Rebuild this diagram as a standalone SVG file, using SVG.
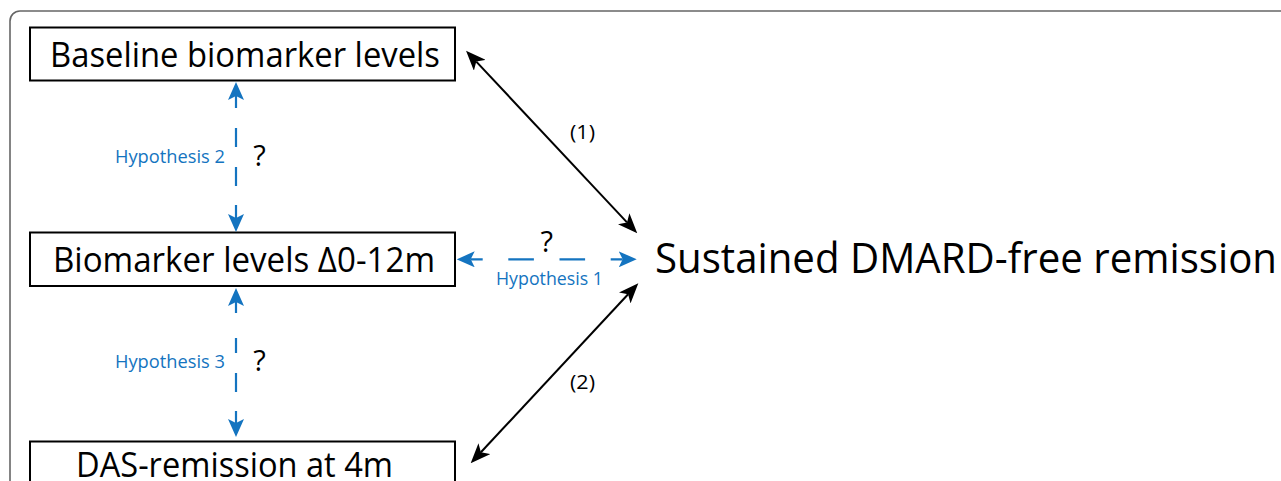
<svg xmlns="http://www.w3.org/2000/svg" width="1281" height="481" viewBox="0 0 1281 481">
  <style>
    .frame { fill: none; stroke: #666; stroke-width: 1.6; }
    .box { fill: #fff; stroke: #000; stroke-width: 2; }
    .lbl { font-family: "Open Sans", "Noto Sans", sans-serif; fill: #000; }
    .hyp { font-family: "Open Sans", "Noto Sans", sans-serif; fill: #1474c0; font-size: 18px; }
    .q { font-family: "Open Sans", "Noto Sans", sans-serif; fill: #000; font-size: 29px; text-anchor: middle; }
    .blue { fill: none; stroke: #1474c0; stroke-width: 2.2; marker-start: url(#mb); marker-end: url(#mb); }
    .black { fill: none; stroke: #000; stroke-width: 2; marker-start: url(#mk); marker-end: url(#mk); }
  </style>
  <defs>
    <marker id="mb" viewBox="0 0 18 16" refX="4" refY="8" markerWidth="18" markerHeight="16" markerUnits="userSpaceOnUse" orient="auto-start-reverse">
      <path d="M18,8 L0,0 L4,8 L0,16 Z" fill="#1474c0"/>
    </marker>
    <marker id="mk" viewBox="0 0 20 16" refX="5" refY="8" markerWidth="20" markerHeight="16" markerUnits="userSpaceOnUse" orient="auto-start-reverse">
      <path d="M20,8 L0,0 L5,8 L0,16 Z" fill="#000"/>
    </marker>
  </defs>

  <rect class="frame" x="10" y="11" width="1300" height="520" rx="10" ry="10"/>

  <g id="node-baseline">
    <rect class="box" x="30" y="27.5" width="425" height="53"/>
    <text class="lbl" x="50" y="66.5" font-size="34" textLength="390" lengthAdjust="spacingAndGlyphs">Baseline biomarker levels</text>
  </g>
  <g id="node-delta">
    <rect class="box" x="30" y="232.5" width="425" height="53.5"/>
    <text class="lbl" x="53" y="271.5" font-size="34" textLength="382" lengthAdjust="spacingAndGlyphs">Biomarker levels Δ0-12m</text>
  </g>
  <g id="node-das">
    <rect class="box" x="30" y="441.5" width="425" height="60"/>
    <text class="lbl" x="76" y="477" font-size="34" textLength="317" lengthAdjust="spacingAndGlyphs">DAS-remission at 4m</text>
  </g>
  <g id="node-sustained">
    <text class="lbl" x="655" y="272.5" font-size="42" textLength="622" lengthAdjust="spacingAndGlyphs">Sustained DMARD-free remission</text>
  </g>

  <g id="connectors">
    <line class="blue" x1="236" y1="96" x2="236" y2="218" stroke-dasharray="12 20 19 20 19 19 13"/>
    <line class="blue" x1="236" y1="302" x2="236" y2="423" stroke-dasharray="11 25 15 20 19 19 12"/>
    <line class="blue" x1="470.7" y1="259.3" x2="622.7" y2="259.3" stroke-dasharray="12 25.6 25.6 25.6 25.6 25.6 12"/>
    <line class="black" x1="476.3" y1="61.6" x2="627" y2="222.4"/>
    <line class="black" x1="480.9" y1="452.3" x2="628.1" y2="294.3"/>

    <text class="hyp" x="115" y="163.3" textLength="110" lengthAdjust="spacingAndGlyphs">Hypothesis 2</text>
    <text class="q" x="259.5" y="166">?</text>
    <text class="hyp" x="115" y="368.3" textLength="110" lengthAdjust="spacingAndGlyphs">Hypothesis 3</text>
    <text class="q" x="259.5" y="370.7">?</text>
    <text class="hyp" x="496" y="285" textLength="107" lengthAdjust="spacingAndGlyphs">Hypothesis 1</text>
    <text class="q" x="546.7" y="252.3">?</text>
    <text class="lbl" x="570" y="139" font-size="20" textLength="25" lengthAdjust="spacingAndGlyphs">(1)</text>
    <text class="lbl" x="570" y="389" font-size="20" textLength="25" lengthAdjust="spacingAndGlyphs">(2)</text>
  </g>
</svg>
